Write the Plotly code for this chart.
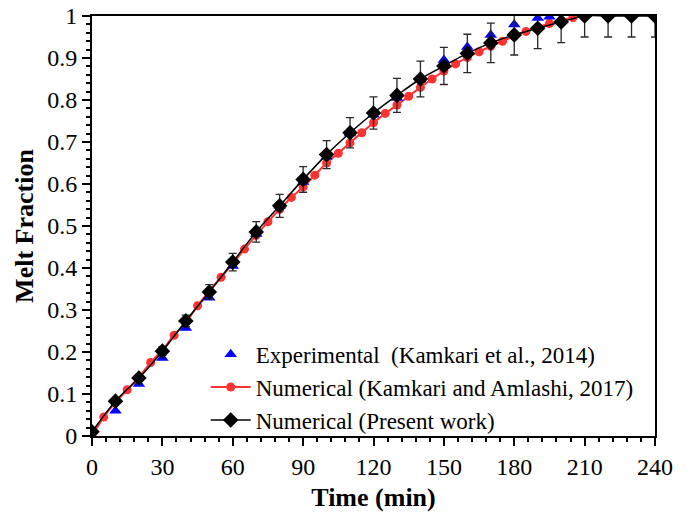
import plotly.graph_objects as go

# Experimental (Kamkari et al., 2014)
exp_t = [10, 20, 30, 40, 50, 60, 70, 80, 90, 100, 110, 120, 130, 140, 150, 160, 170, 180, 190, 195]
exp_f = [0.06, 0.124, 0.186, 0.257, 0.329, 0.405, 0.481, 0.548, 0.605, 0.665, 0.72, 0.765, 0.805, 0.848,
         0.895, 0.926, 0.955, 0.98, 0.995, 0.998]

# Numerical (Kamkari and Amlashi, 2017)
ka_t = list(range(0, 215, 5))
ka_f = [0.0, 0.045, 0.08, 0.11, 0.14, 0.175, 0.205, 0.24, 0.27, 0.31, 0.345, 0.378, 0.41, 0.445,
        0.478, 0.51, 0.54, 0.568, 0.593, 0.621, 0.65, 0.673, 0.698, 0.722, 0.746, 0.768, 0.788,
        0.809, 0.83, 0.85, 0.869, 0.886, 0.901, 0.915, 0.928, 0.94, 0.952, 0.963, 0.973, 0.982,
        0.99, 0.996, 1.0]

# Numerical (Present work)
pw_t = list(range(0, 250, 10))
pw_f = [0.01, 0.083, 0.138, 0.202, 0.274, 0.343, 0.414, 0.486, 0.548, 0.611, 0.67, 0.722,
        0.769, 0.811, 0.85, 0.881, 0.911, 0.936, 0.955, 0.971, 0.986, 1.0, 1.0, 1.0, 1.0]
pw_err = [round(0.05 * v, 4) for v in pw_f]

x_ticks = [0, 30, 60, 90, 120, 150, 180, 210, 240]
y_ticks = [0, 0.1, 0.2, 0.3, 0.4, 0.5, 0.6, 0.7, 0.8, 0.9, 1]
y_tick_text = ["0", "0.1", "0.2", "0.3", "0.4", "0.5", "0.6", "0.7", "0.8", "0.9", "1"]

FONT = "Liberation Serif"

fig = go.Figure()
fig.add_trace(go.Scatter(
    x=ka_t, y=ka_f, mode="lines+markers", name="Numerical (Kamkari and Amlashi, 2017)",
    line=dict(color="rgb(255,50,50)", width=2, shape="spline"),
    marker=dict(symbol="circle", size=9, color="rgb(255,50,50)"),
    legendrank=2, cliponaxis=True,
))
fig.add_trace(go.Scatter(
    x=exp_t, y=exp_f, mode="markers", name="Experimental  (Kamkari et al., 2014)",
    marker=dict(symbol="triangle-up", size=11, color="rgb(0,0,255)"),
    legendrank=1, cliponaxis=True,
))
fig.add_trace(go.Scatter(
    x=pw_t, y=pw_f, mode="lines+markers", name="Numerical (Present work)",
    line=dict(color="black", width=1.5, shape="spline"),
    marker=dict(symbol="diamond", size=12, color="black"),
    error_y=dict(type="data", array=pw_err, visible=True, color="rgb(40,40,40)", thickness=1.3, width=4),
    legendrank=3, cliponaxis=True,
))

fig.update_layout(
    width=700, height=521,
    margin=dict(l=92, r=45, t=16, b=85),
    paper_bgcolor="white", plot_bgcolor="white",
    font=dict(family=FONT, color="black", size=23),
    showlegend=True,
    legend=dict(
        x=0.202, y=0.246, xanchor="left", yanchor="top",
        bgcolor="rgba(0,0,0,0)", borderwidth=0,
        font=dict(family=FONT, size=23, color="black"),
        tracegroupgap=0, itemwidth=40,
    ),
    xaxis=dict(
        range=[0, 240], tickvals=x_ticks, ticktext=[str(v) for v in x_ticks],
        showgrid=False, zeroline=False, automargin=False, ticklabeloverflow="allow",
        showline=True, linecolor="black", linewidth=2, mirror=True,
        ticks="outside", ticklen=8, tickwidth=1.5, tickcolor="black",
        minor=dict(dtick=6, ticks="outside", ticklen=4, tickwidth=1.5, tickcolor="black", showgrid=False),
        tickfont=dict(family=FONT, size=24),
        title=dict(text="<b>Time (min)</b>", font=dict(family=FONT, size=26), standoff=9),
    ),
    yaxis=dict(
        range=[0, 1], tickvals=y_ticks, ticktext=y_tick_text,
        showgrid=False, zeroline=False, automargin=False, ticklabeloverflow="allow",
        showline=True, linecolor="black", linewidth=2, mirror=True,
        ticks="outside", ticklen=8, tickwidth=1.5, tickcolor="black",
        minor=dict(dtick=0.02, ticks="outside", ticklen=4, tickwidth=1.5, tickcolor="black", showgrid=False),
        tickfont=dict(family=FONT, size=24),
        title=dict(text="<b>Melt Fraction</b>", font=dict(family=FONT, size=26), standoff=6),
    ),
)

fig.write_html("out.html", config={"displayModeBar": False},
               post_script="document.body.style.margin='0px';")
